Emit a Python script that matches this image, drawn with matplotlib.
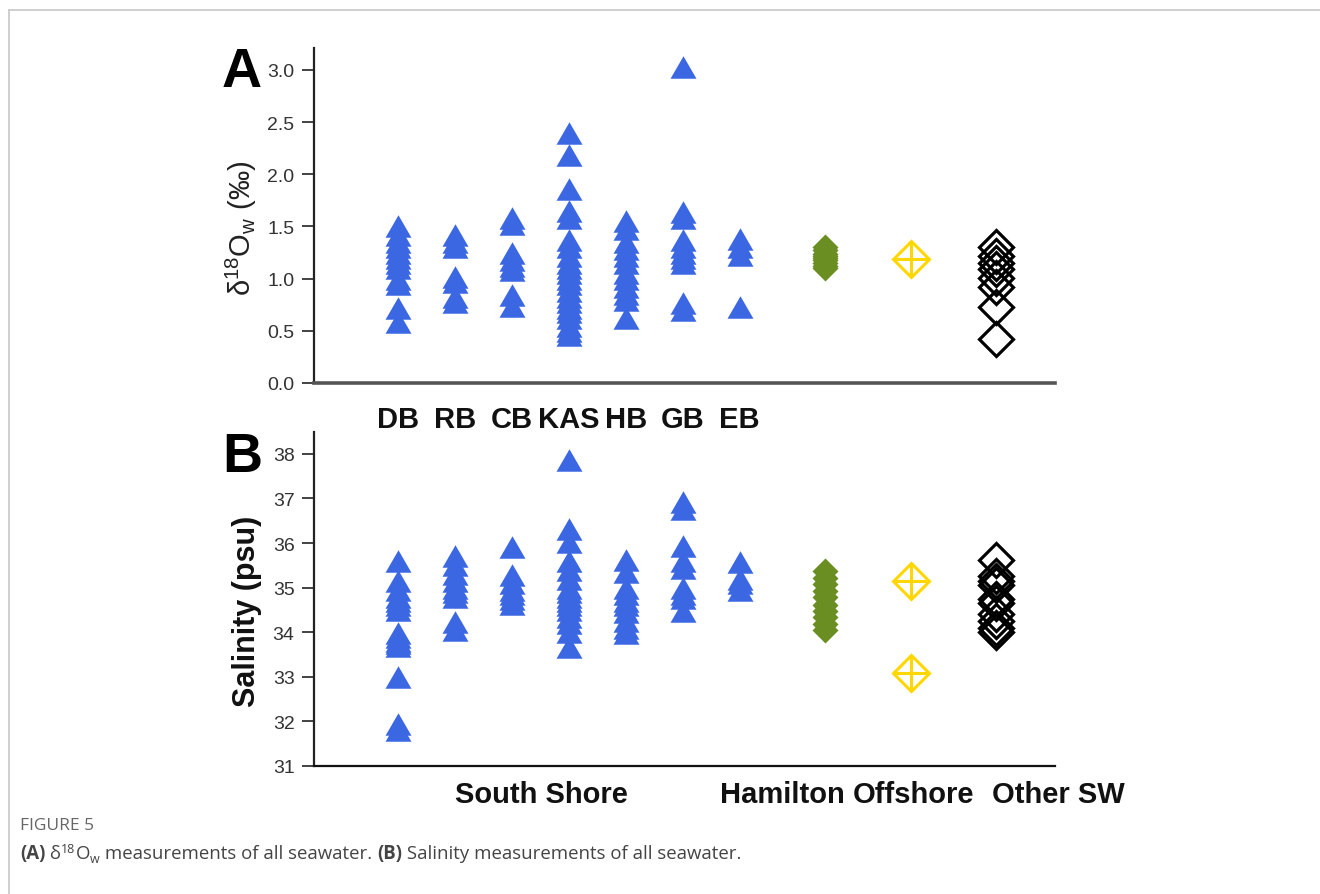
import numpy as np
import matplotlib.pyplot as plt
from matplotlib.path import Path
from matplotlib.lines import Line2D
from matplotlib.transforms import blended_transform_factory

plt.rcParams['font.family'] = ['Liberation Sans', 'DejaVu Sans']
plt.rcParams['mathtext.fontset'] = 'custom'
plt.rcParams['mathtext.rm'] = 'Liberation Sans'
plt.rcParams['mathtext.it'] = 'Liberation Sans:italic'
plt.rcParams['mathtext.bf'] = 'Liberation Sans:bold'

### values
sites = ["DB", "RB", "CB", "KAS", "HB", "GB", "EB"]
groups = ["Hamilton", "Offshore", "Other SW"]

# panel A: d18O of seawater (permil)
d18o_db = [1.50, 1.42, 1.35, 1.30, 1.25, 1.20, 1.15, 1.10, 1.00, 0.95, 0.72, 0.58]
d18o_rb = [1.42, 1.35, 1.30, 1.02, 0.97, 0.82, 0.78]
d18o_cb = [1.58, 1.52, 1.25, 1.18, 1.12, 1.08, 0.84, 0.74]
d18o_kas = [2.40, 2.18, 1.86, 1.65, 1.58, 1.37, 1.30, 1.22, 1.15, 1.10, 1.05,
            1.00, 0.95, 0.88, 0.82, 0.78, 0.72, 0.68, 0.62, 0.55, 0.50, 0.46]
d18o_hb = [1.55, 1.48, 1.35, 1.28, 1.22, 1.15, 1.05, 1.00, 0.92, 0.85, 0.80, 0.62]
d18o_gb = [3.03, 1.64, 1.58, 1.37, 1.30, 1.25, 1.20, 1.15, 0.77, 0.70]
d18o_eb = [1.38, 1.30, 1.23, 0.73]
d18o_hamilton = [1.30, 1.27, 1.24, 1.22, 1.20, 1.18, 1.15, 1.12, 1.10]
d18o_offshore = [1.19]
d18o_other = [1.30, 1.22, 1.15, 1.09, 1.01, 0.92, 0.73, 0.42]

# panel B: salinity (psu)
sal_db = [35.60, 35.15, 34.95, 34.80, 34.70, 34.60, 34.50, 33.98, 33.90, 33.80,
          33.75, 33.70, 33.00, 31.95, 31.80]
sal_rb = [35.72, 35.50, 35.30, 35.15, 35.00, 34.90, 34.78, 34.22, 34.05]
sal_cb = [35.92, 35.28, 35.10, 34.95, 34.85, 34.75, 34.63]
sal_kas = [37.87, 36.32, 36.03, 35.60, 35.40, 35.20, 35.00, 34.90, 34.80, 34.70,
           34.60, 34.50, 34.35, 34.20, 34.00, 33.66]
sal_hb = [35.63, 35.35, 35.00, 34.85, 34.70, 34.60, 34.45, 34.25, 34.10, 33.98]
sal_gb = [36.91, 36.77, 35.93, 35.60, 35.44, 34.99, 34.85, 34.77, 34.47]
sal_eb = [35.57, 35.20, 35.10, 34.95]
sal_hamilton = [35.38, 35.22, 35.08, 34.92, 34.78, 34.62, 34.48, 34.34, 34.18, 34.05]
sal_offshore = [35.14, 33.09]
sal_other = [35.63, 35.25, 35.15, 35.05, 34.75, 34.65, 34.40, 34.25, 34.10, 34.00]

d18o_sites = [d18o_db, d18o_rb, d18o_cb, d18o_kas, d18o_hb, d18o_gb, d18o_eb]
sal_sites = [sal_db, sal_rb, sal_cb, sal_kas, sal_hb, sal_gb, sal_eb]

W, H = 1320, 895
fx = lambda x: x / W
fy = lambda y: 1 - y / H

BLUE = '#3B67E3'
GREEN = '#6B8E23'
GOLD = '#FFD700'

# equilateral triangle marker
tri = Path([(0, 0.433), (-0.5, -0.433), (0.5, -0.433), (0, 0.433)],
           [Path.MOVETO, Path.LINETO, Path.LINETO, Path.CLOSEPOLY])

site_x = np.arange(1, len(sites) + 1)
group_x = [8.5, 10.0, 11.5]

fig = plt.figure(figsize=(W / 100, H / 100), dpi=100)
ax_a = fig.add_axes([fx(314), fy(384), fx(1055) - fx(314), fy(49) - fy(384)])
ax_b = fig.add_axes([fx(314), fy(767), fx(1055) - fx(314), fy(433) - fy(767)])


def draw_panel(ax, site_vals, ham, off, oth):
    for x, vals in zip(site_x, site_vals):
        ax.plot([x] * len(vals), vals, linestyle='none', marker=tri,
                ms=18.7, color=BLUE, mec='none', clip_on=False)
    ax.plot([group_x[0]] * len(ham), ham, linestyle='none', marker='D',
            ms=13.7, color=GREEN, mec='none', clip_on=False)
    ax.plot([group_x[1]] * len(off), off, linestyle='none', marker='D',
            ms=18.3, mfc='none', mec=GOLD, mew=2.2, clip_on=False)
    ax.plot([group_x[1]] * len(off), off, linestyle='none', marker='+',
            ms=25.5, mec=GOLD, mew=2.2, clip_on=False)
    ax.plot([group_x[2]] * len(oth), oth, linestyle='none', marker='D',
            ms=17.8, mfc='none', mec='black', mew=2.3, clip_on=False)
    ax.set_xlim(-0.47, 12.53)
    ax.spines['top'].set_visible(False)
    ax.spines['right'].set_visible(False)
    ax.set_xticks([])
    ax.tick_params(axis='y', length=9, width=1.2, colors='#222',
                   labelcolor='#333', labelsize=14, pad=5)


draw_panel(ax_a, d18o_sites, d18o_hamilton, d18o_offshore, d18o_other)
draw_panel(ax_b, sal_sites, sal_hamilton, sal_offshore, sal_other)

ax_a.set_ylim(0, 3.21)
ax_a.set_yticks(np.arange(0, 3.01, 0.5))
ax_a.set_yticklabels([f"{v:.1f}" for v in np.arange(0, 3.01, 0.5)])
ax_a.spines['left'].set_linewidth(1.6)
ax_a.spines['left'].set_color('#222')
ax_a.spines['bottom'].set_linewidth(2.6)
ax_a.spines['bottom'].set_color('#555')

ax_b.set_ylim(31, 38.49)
ax_b.set_yticks(range(31, 39))
ax_b.spines['left'].set_linewidth(1.6)
ax_b.spines['left'].set_color('#222')
ax_b.spines['bottom'].set_linewidth(1.6)
ax_b.spines['bottom'].set_color('#111')

# axis titles and panel letters
fig.text(fx(241), fy(228), r'$\mathregular{\delta^{18}O_w}$ (‰)', rotation=90,
         ha='center', va='center', fontsize=21, color='#222')
fig.text(fx(247), fy(611), 'Salinity (psu)', rotation=90, ha='center',
         va='center', fontsize=22, fontweight='bold', color='#111')
fig.text(fx(242), fy(73), 'A', ha='center', va='center', fontsize=40,
         fontweight='bold')
fig.text(fx(242), fy(458), 'B', ha='center', va='center', fontsize=40,
         fontweight='bold')

# site labels between the panels
tr = blended_transform_factory(ax_a.transData, fig.transFigure)
for x, s in zip(site_x, sites):
    fig.text(x, fy(420), s, transform=tr, ha='center', va='center',
             fontsize=21, fontweight='bold', color='#111')

# group labels under panel B
for px, s in zip([541, 782, 914, 1058], ["South Shore"] + groups):
    fig.text(fx(px), fy(795), s, ha='center', va='center', fontsize=21,
             fontweight='bold', color='#111')

# card border
fig.add_artist(Line2D([fx(9), 1], [fy(11), fy(11)], color='#cccccc', lw=1.3))
fig.add_artist(Line2D([fx(9), fx(9)], [fy(11), 0], color='#cccccc', lw=1.3))

# caption
cap_font = ['Open Sans', 'DejaVu Sans']
fig.text(fx(20), fy(826), 'FIGURE 5', ha='left', va='center', fontsize=12.5,
         color='#666666', family=cap_font)

renderer = fig.canvas.get_renderer()
runs = [("(A)", dict(fontweight='bold')),
        (" δ", {}),
        ("18", dict(fontsize=9, dy=6)),
        ("O", {}),
        ("w", dict(fontsize=9, dy=-4)),
        (" measurements of all seawater. ", {}),
        ("(B)", dict(fontweight='bold')),
        (" Salinity measurements of all seawater.", {})]
x = fx(20)
for s, kw in runs:
    kw = dict(kw)
    dy = kw.pop('dy', 0)
    size = kw.pop('fontsize', 13.4)
    t = fig.text(x, fy(859 - dy), s, ha='left', va='baseline', fontsize=size,
                 color='#444444', family=cap_font, **kw)
    x += t.get_window_extent(renderer).width / W

fig.savefig('out.png', dpi=100)
